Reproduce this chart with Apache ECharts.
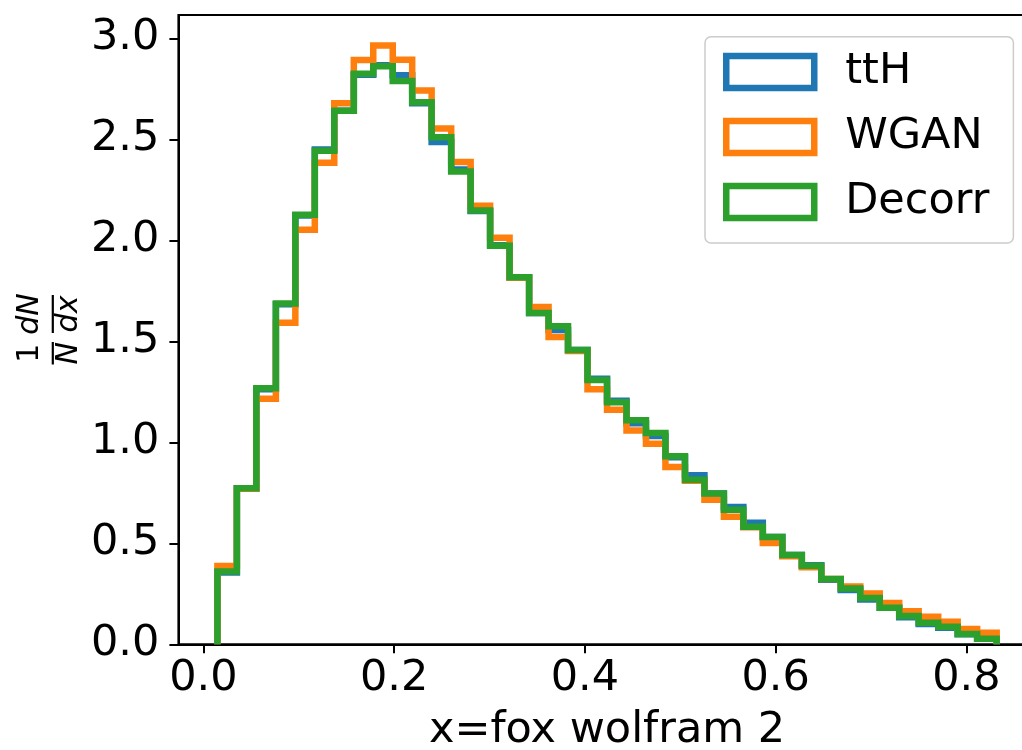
<!DOCTYPE html>
<html>
<head>
<meta charset="utf-8">
<script src="https://cdn.jsdelivr.net/npm/echarts/dist/echarts.min.js"></script>
<style>html,body{margin:0;padding:0;background:#fff;overflow:hidden;}#chart{width:1022px;height:750px;}</style>
</head>
<body>
<div id="chart"></div>
<script>
// Histogram bin edges (40 bins)
const binEdges = [0.0147,0.0351,0.0555,0.0760,0.0964,0.1168,0.1372,0.1577,0.1781,0.1985,
  0.2189,0.2393,0.2598,0.2802,0.3006,0.3210,0.3415,0.3619,0.3823,0.4027,
  0.4232,0.4436,0.4640,0.4844,0.5049,0.5253,0.5457,0.5661,0.5865,0.6070,
  0.6274,0.6478,0.6682,0.6887,0.7091,0.7295,0.7499,0.7704,0.7908,0.8112,0.8317];
const seriesNames = ['ttH', 'WGAN', 'Decorr'];
const ttH = [0.356,0.773,1.262,1.684,2.123,2.449,2.641,2.819,2.867,2.817,
  2.679,2.487,2.351,2.145,1.976,1.817,1.640,1.556,1.457,1.315,
  1.206,1.094,1.031,0.926,0.837,0.746,0.680,0.602,0.531,0.442,
  0.391,0.320,0.269,0.222,0.181,0.134,0.100,0.082,0.050,0.028];
const WGAN = [0.388,0.770,1.215,1.592,2.052,2.384,2.678,2.892,2.964,2.894,
  2.742,2.553,2.388,2.171,2.013,1.815,1.670,1.521,1.452,1.262,
  1.161,1.059,0.993,0.878,0.810,0.716,0.632,0.580,0.501,0.436,
  0.382,0.323,0.286,0.252,0.204,0.163,0.137,0.112,0.076,0.057];
const Decorr = [0.360,0.773,1.268,1.687,2.127,2.443,2.641,2.825,2.861,2.789,
  2.683,2.510,2.340,2.147,1.973,1.817,1.640,1.574,1.457,1.308,
  1.198,1.109,1.046,0.931,0.815,0.746,0.666,0.582,0.531,0.442,
  0.389,0.323,0.276,0.229,0.181,0.140,0.107,0.087,0.051,0.028];
const xTicks = [0.0, 0.2, 0.4, 0.6, 0.8];
const yTicks = [0.0, 0.5, 1.0, 1.5, 2.0, 2.5, 3.0];
const xLabel = 'x=fox wolfram 2';
const colors = ['#1f77b4', '#ff7f0e', '#2ca02c'];

function stepPoints(edges, vals) {
  const pts = [[edges[0], 0]];
  for (let i = 0; i < vals.length; i++) {
    pts.push([edges[i], vals[i]]);
    pts.push([edges[i + 1], vals[i]]);
  }
  pts.push([edges[edges.length - 1], 0]);
  return pts;
}

const FONT = 'DejaVu Sans';
const chart = echarts.init(document.getElementById('chart'), null, {renderer: 'canvas'});
const allVals = [ttH, WGAN, Decorr];

const option = {
  animation: false,
  backgroundColor: '#fff',
  grid: {left: 178.4, right: -13.7, top: 15, bottom: 105.7, show: true,
         outerBoundsMode: 'none', containLabel: false,
         borderColor: '#000', borderWidth: 2, backgroundColor: 'transparent'},
  xAxis: {
    type: 'value', min: -0.0262, max: 0.8726,
    splitLine: {show: false},
    axisLine: {show: true, onZero: false, lineStyle: {color: '#000', width: 2}},
    axisTick: {show: true, length: 9, lineStyle: {color: '#000', width: 2}, customValues: xTicks},
    axisLabel: {customValues: xTicks, formatter: v => v.toFixed(1), fontSize: 43, fontFamily: FONT, color: '#000', margin: 13.5},
    name: xLabel, nameLocation: 'middle', nameGap: 64.6,
    nameTextStyle: {fontSize: 43, fontFamily: FONT, color: '#000'}
  },
  yAxis: {
    type: 'value', min: 0, max: 3.1153,
    splitLine: {show: false},
    axisLine: {show: true, onZero: false, lineStyle: {color: '#000', width: 2}},
    axisTick: {show: true, length: 9, lineStyle: {color: '#000', width: 2}, customValues: yTicks},
    axisLabel: {customValues: yTicks, formatter: v => v.toFixed(1), fontSize: 43, fontFamily: FONT, color: '#000', margin: 19, padding: [5, 0, 0, 0]}
  },
  legend: {
    orient: 'vertical', left: 705, top: 36.7,
    padding: [13.8, 24, 19.5, 18],
    itemWidth: 88, itemHeight: 32, itemGap: 22,
    icon: 'rect',
    backgroundColor: 'rgba(255,255,255,0.8)', borderColor: '#cccccc', borderWidth: 1.5, borderRadius: 6,
    textStyle: {fontSize: 43, fontFamily: FONT, color: '#000', padding: [0, 0, 0, 26]},
    selectedMode: false,
    data: seriesNames.map((n, i) => ({name: n, icon: 'rect',
      itemStyle: {color: 'rgba(255,255,255,0)', borderColor: colors[i], borderWidth: 6.5}}))
  },
  series: seriesNames.map((n, i) => ({
    name: n, type: 'line', data: stepPoints(binEdges, allVals[i]),
    symbol: 'none', showSymbol: false, clip: true, z: 2 + i,
    color: colors[i],
    itemStyle: {color: colors[i]},
    lineStyle: {color: colors[i], width: 6.5, join: 'miter', cap: 'butt'},
    emphasis: {disabled: true}
  })),
  graphic: [{
    type: 'group', x: 52.8, y: 365, rotation: Math.PI / 2,
    children: [
      {type: 'text', x: 11.7, y: -22.2, style: {text: '1', font: '30px "DejaVu Sans"', align: 'center', verticalAlign: 'middle', fill: '#000'}},
      {type: 'line', shape: {x1: 0.5, y1: 0, x2: 23, y2: 0}, style: {stroke: '#000', lineWidth: 2.2}},
      {type: 'text', x: 11.7, y: 16, style: {text: 'N', font: 'italic 30px "DejaVu Sans"', align: 'center', verticalAlign: 'middle', fill: '#000'}},
      {type: 'text', x: 51, y: -22.2, style: {text: 'dN', font: 'italic 30px "DejaVu Sans"', align: 'center', verticalAlign: 'middle', fill: '#000'}},
      {type: 'line', shape: {x1: 32, y1: 0, x2: 70, y2: 0}, style: {stroke: '#000', lineWidth: 2.2}},
      {type: 'text', x: 51, y: 16, style: {text: 'dx', font: 'italic 30px "DejaVu Sans"', align: 'center', verticalAlign: 'middle', fill: '#000'}}
    ]
  }]
};
chart.setOption(option);
</script>
</body>
</html>
